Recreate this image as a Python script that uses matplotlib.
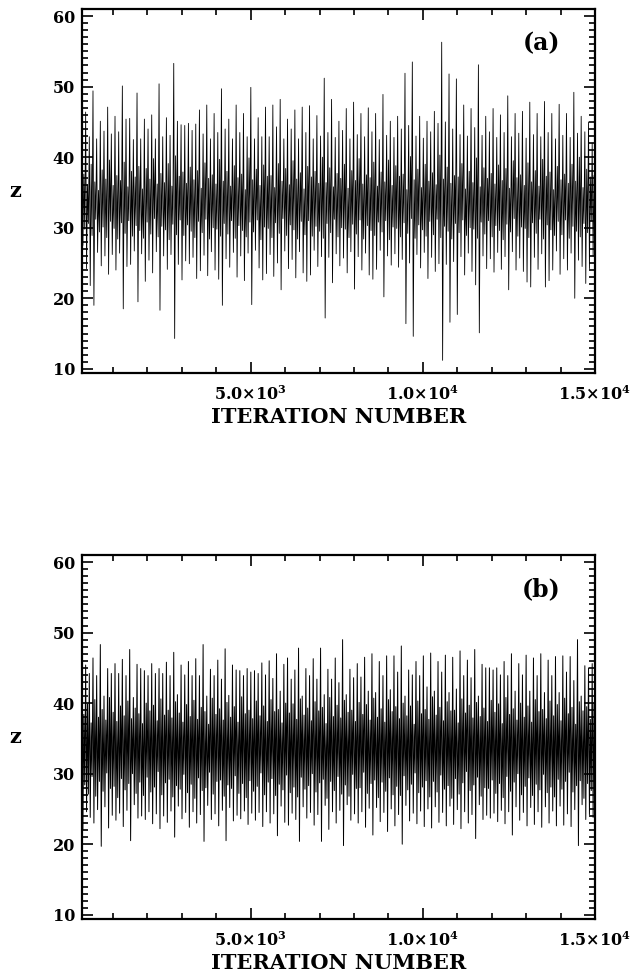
"""
z versus iteration number, two runs (a) and (b)
"""

import numpy as np
import matplotlib
matplotlib.use('Agg')
import matplotlib.pyplot as plt
from matplotlib.ticker import FixedLocator, MultipleLocator

# ── 1. DATA (successive maxima / minima of z) ───────────────────────────────
# each cycle: big peak -> trough -> small hump -> small dip -> next peak

peaks_a = [41.0, 46.4, 42.9, 49.4, 42.6, 45.1, 43.7, 47.1, 43.3, 45.8,
           43.6, 50.1, 45.4, 45.5, 42.5, 49.1, 42.6, 45.4, 44.0, 46.0,
           42.6, 50.4, 42.9, 45.6, 43.1, 53.3, 45.1, 44.6, 44.5, 44.8,
           43.8, 44.7, 46.7, 43.3, 47.4, 42.6, 46.2, 43.5, 49.7, 44.0,
           45.4, 42.6, 47.4, 43.5, 46.2, 42.9, 49.9, 42.6, 45.6, 42.9,
           47.1, 42.9, 47.4, 44.3, 48.2, 42.6, 45.4, 44.0, 46.7, 42.6,
           47.1, 43.5, 47.3, 42.6, 45.9, 43.0, 51.2, 43.5, 48.2, 42.8,
           45.1, 43.8, 46.9, 42.6, 47.8, 43.2, 46.2, 42.9, 47.0, 43.6,
           46.2, 42.5, 48.9, 43.1, 45.1, 42.8, 45.8, 44.0, 51.9, 44.5,
           53.5, 43.0, 45.8, 42.7, 45.1, 43.6, 46.5, 44.8, 56.3, 45.0,
           51.8, 44.0, 51.1, 43.2, 47.4, 43.0, 46.9, 44.2, 53.1, 43.1,
           45.8, 43.6, 46.9, 42.8, 46.0, 43.5, 48.7, 42.9, 46.2, 43.4,
           46.5, 42.7, 47.8, 43.2, 46.2, 42.9, 47.9, 43.5, 46.2, 42.6,
           47.5, 43.1, 46.2, 42.8, 49.2, 43.4, 45.8, 43.6, 45.0, 42.0]

troughs_a = [27.5, 24.2, 21.8, 19.0, 26.5, 24.6, 26.0, 23.4, 26.2, 24.0,
             26.4, 18.5, 24.5, 24.8, 26.7, 19.5, 26.3, 22.4, 25.4, 23.6,
             26.6, 18.3, 26.0, 24.1, 26.2, 14.3, 24.8, 22.6, 25.3, 24.9,
             25.8, 22.8, 23.9, 26.1, 23.2, 26.6, 24.0, 22.7, 19.0, 25.6,
             24.4, 26.5, 23.0, 26.0, 22.5, 26.4, 19.1, 26.8, 24.3, 22.6,
             23.5, 26.2, 23.1, 25.0, 21.2, 26.7, 24.2, 25.5, 22.9, 26.6,
             23.6, 22.4, 23.3, 26.8, 24.5, 25.9, 17.2, 25.8, 22.2, 26.3,
             24.6, 25.7, 23.6, 26.6, 21.3, 25.9, 24.0, 26.4, 23.3, 22.7,
             24.1, 26.8, 20.2, 26.0, 24.7, 26.3, 24.4, 25.5, 16.4, 25.0,
             14.6, 26.2, 24.3, 26.5, 22.8, 25.8, 23.8, 24.9, 11.2, 24.8,
             16.6, 25.2, 17.7, 25.9, 23.3, 26.4, 23.8, 21.9, 15.1, 26.0,
             24.2, 25.6, 23.7, 26.5, 24.1, 25.9, 21.2, 26.6, 24.0, 25.7,
             23.8, 22.3, 21.6, 25.8, 24.1, 26.3, 21.6, 22.5, 24.0, 26.7,
             23.4, 25.6, 24.0, 26.4, 20.0, 25.4, 24.5, 22.1, 24.2, 26.0]

hump_a = [37.6, 36.1, 39.0, 36.5, 35.3, 38.2, 36.9, 39.6, 36.0, 37.4,
          36.7, 39.3, 35.8, 38.0, 37.2, 38.7, 35.5, 38.4, 36.9, 39.8,
          36.2, 37.7, 36.4, 39.1, 35.9, 40.2, 37.3, 37.9, 36.3, 38.6,
          36.8, 38.1, 35.6, 39.2, 37.0, 37.5, 36.2, 39.7, 36.6, 38.0,
          35.9, 38.8, 37.1, 37.6, 35.4, 39.9, 36.8, 38.3, 36.0, 38.9,
          37.3, 37.4, 35.7, 39.1, 36.6, 38.4, 36.1, 39.5, 36.9, 37.8,
          35.5, 38.7, 37.2, 38.0, 36.3, 40.0, 36.4, 38.5, 35.8, 37.7,
          37.0, 39.0, 35.6, 38.1, 36.7, 39.8, 36.2, 37.5, 37.1, 39.3,
          35.9, 37.9, 36.5, 39.6, 36.0, 38.8, 37.3, 37.6, 35.4, 40.1,
          36.8, 38.3, 35.7, 39.0, 36.6, 37.8, 36.1, 40.3, 36.9, 38.6,
          36.3, 37.4, 37.2, 39.1, 35.5, 38.0, 36.4, 39.9, 35.8, 38.5,
          37.0, 37.7, 36.2, 38.9, 36.7, 38.4, 35.6, 39.5, 37.1, 37.5,
          36.0, 39.2, 36.5, 38.1, 35.9, 39.7, 37.3, 37.9, 35.4, 38.7,
          36.8, 37.6, 36.3, 39.0, 36.6, 40.0, 35.7, 38.3, 37.2, 37.4]

dip_a = [29.8, 30.6, 28.9, 31.2, 29.4, 30.1, 28.6, 30.9, 29.9, 28.4,
         30.7, 29.2, 31.0, 28.8, 30.3, 29.6, 28.5, 30.8, 29.1, 31.3,
         28.7, 30.2, 29.7, 28.3, 30.5, 29.0, 31.1, 28.9, 30.4, 29.5,
         28.6, 30.9, 29.3, 31.2, 28.4, 30.0, 29.8, 28.8, 30.6, 29.1,
         31.0, 28.5, 30.3, 29.6, 28.7, 30.8, 29.4, 31.1, 28.3, 30.1,
         29.9, 28.6, 30.7, 29.2, 31.3, 28.9, 30.4, 29.7, 28.4, 30.9,
         29.0, 31.0, 28.8, 30.2, 29.5, 28.5, 30.6, 29.3, 31.2, 28.7,
         30.0, 29.8, 28.6, 30.5, 29.1, 31.1, 28.4, 30.3, 29.6, 28.9,
         30.8, 29.4, 31.0, 28.3, 30.1, 29.9, 28.7, 30.7, 29.2, 31.3,
         28.5, 30.4, 29.7, 28.8, 30.9, 29.0, 31.2, 28.6, 30.2, 29.5,
         28.4, 30.6, 29.3, 31.1, 28.9, 30.0, 29.8, 28.5, 30.8, 29.1,
         31.0, 28.7, 30.3, 29.6, 28.3, 30.5, 29.4, 31.3, 28.8, 30.1,
         29.9, 28.6, 30.7, 29.2, 31.2, 28.4, 30.4, 29.7, 28.9, 30.9,
         29.0, 31.1, 28.5, 30.2, 29.5, 28.7, 30.6, 29.3, 31.0, 28.8]

peaks_b = [45.6, 45.4, 44.2, 46.4, 43.9, 48.3, 41.0, 44.9, 44.2, 45.6,
           44.2, 46.2, 43.9, 47.6, 40.8, 45.5, 44.9, 44.6, 43.9, 45.6,
           44.2, 44.9, 44.2, 45.8, 43.9, 47.2, 41.2, 45.4, 44.0, 45.9,
           43.9, 46.3, 43.9, 48.3, 41.0, 44.8, 43.9, 46.1, 43.4, 47.7,
           41.1, 45.4, 44.7, 44.6, 43.9, 44.9, 44.4, 44.6, 44.2, 45.7,
           44.0, 46.0, 43.5, 47.0, 41.7, 45.5, 46.4, 43.4, 44.7, 47.8,
           41.0, 44.9, 43.9, 46.3, 43.4, 47.8, 41.2, 44.8, 43.4, 46.4,
           42.9, 49.0, 41.2, 44.8, 43.6, 45.6, 43.7, 46.5, 41.7, 47.0,
           41.5, 45.9, 43.9, 46.7, 41.9, 46.7, 44.4, 48.1, 41.0, 44.7,
           44.0, 45.9, 43.9, 46.7, 42.3, 47.1, 41.7, 45.9, 44.4, 46.8,
           41.5, 46.5, 42.0, 47.4, 43.9, 46.1, 43.6, 47.6, 41.0, 45.5,
           45.0, 45.0, 44.7, 45.0, 44.0, 45.9, 43.9, 47.0, 41.7, 45.6,
           44.0, 46.8, 41.7, 46.4, 43.9, 47.0, 41.5, 46.1, 43.9, 46.6,
           41.5, 46.7, 44.4, 46.6, 43.2, 49.0, 41.0, 45.3, 45.0, 45.6]

troughs_b = [22.1, 24.6, 23.8, 23.0, 24.9, 19.7, 25.3, 22.3, 24.1, 23.4,
             24.4, 22.5, 24.8, 20.5, 25.6, 23.7, 24.0, 23.5, 24.6, 22.9,
             24.3, 22.2, 24.0, 23.1, 24.7, 21.0, 25.4, 23.6, 24.5, 22.4,
             24.6, 23.0, 24.2, 20.4, 25.5, 23.5, 24.3, 22.6, 24.8, 20.5,
             25.2, 23.3, 24.1, 23.6, 24.7, 22.8, 24.4, 23.4, 24.5, 22.5,
             24.6, 23.0, 24.3, 21.2, 25.4, 23.1, 22.7, 24.4, 23.5, 20.4,
             25.3, 23.7, 24.5, 22.7, 24.2, 20.4, 25.5, 22.1, 24.6, 23.0,
             24.8, 19.8, 25.6, 23.4, 24.3, 23.0, 24.6, 22.4, 25.1, 21.3,
             25.2, 23.2, 24.5, 21.8, 25.0, 22.6, 24.2, 20.0, 25.5, 23.3,
             24.4, 22.9, 24.7, 22.5, 25.0, 22.3, 25.3, 23.1, 24.5, 22.6,
             25.4, 22.8, 24.9, 22.2, 24.6, 23.0, 24.2, 20.8, 25.6, 23.5,
             24.1, 23.7, 24.4, 23.2, 24.8, 22.9, 24.6, 21.3, 25.3, 23.4,
             24.5, 22.6, 25.2, 22.8, 24.6, 22.4, 25.3, 23.0, 24.7, 22.6,
             25.4, 22.7, 24.3, 22.5, 24.9, 19.8, 25.6, 23.5, 24.2, 23.8]

hump_b = [38.4, 39.9, 37.2, 40.5, 38.0, 39.1, 37.6, 40.8, 38.7, 37.4,
          39.6, 38.2, 40.3, 37.8, 39.3, 38.5, 37.1, 40.0, 38.9, 39.7,
          37.5, 40.6, 38.3, 39.0, 37.9, 40.2, 38.6, 37.3, 39.8, 38.1,
          40.4, 37.7, 39.4, 38.8, 37.0, 40.7, 38.4, 39.2, 37.6, 40.1,
          38.0, 39.5, 37.3, 40.9, 38.5, 39.0, 37.8, 40.3, 38.2, 39.6,
          37.4, 40.5, 38.8, 39.1, 37.2, 40.0, 38.6, 39.9, 37.7, 40.6,
          38.3, 39.3, 37.5, 40.2, 38.9, 39.4, 37.1, 40.8, 38.1, 39.7,
          37.9, 40.4, 38.7, 39.0, 37.4, 40.1, 38.4, 39.8, 37.6, 40.7,
          38.0, 39.2, 37.3, 40.5, 38.8, 39.5, 37.8, 40.0, 38.2, 39.6,
          37.0, 40.3, 38.5, 39.1, 37.7, 40.9, 38.3, 39.4, 37.5, 40.2,
          38.9, 39.0, 37.2, 40.6, 38.6, 39.7, 37.9, 40.1, 38.1, 39.3,
          37.4, 40.4, 38.7, 39.9, 37.1, 40.8, 38.4, 39.2, 37.6, 40.0,
          38.0, 39.6, 37.3, 40.5, 38.8, 39.1, 37.8, 40.3, 38.2, 39.8,
          37.5, 40.7, 38.5, 39.4, 37.0, 40.2, 38.9, 39.5, 37.7, 40.0]

dip_b = [28.4, 27.1, 29.6, 26.8, 28.9, 27.5, 30.1, 27.9, 28.2, 26.6,
         29.3, 27.7, 28.6, 30.0, 27.2, 28.8, 26.9, 29.5, 27.4, 28.1,
         30.3, 27.0, 28.7, 29.2, 26.7, 28.3, 27.8, 29.9, 27.3, 28.5,
         26.5, 29.4, 27.6, 28.0, 30.2, 27.1, 28.9, 29.1, 26.8, 28.4,
         27.9, 29.7, 27.2, 28.6, 26.6, 29.0, 27.5, 28.2, 30.1, 27.0,
         28.8, 29.3, 26.9, 28.5, 27.7, 29.8, 27.3, 28.1, 26.7, 29.5,
         27.8, 28.3, 30.0, 27.4, 28.7, 29.2, 26.5, 28.9, 27.6, 29.6,
         27.1, 28.4, 26.8, 29.9, 27.9, 28.0, 30.2, 27.2, 28.6, 29.1,
         26.6, 28.8, 27.5, 29.4, 27.0, 28.2, 26.9, 29.7, 27.7, 28.5,
         30.1, 27.3, 28.1, 29.0, 26.7, 28.9, 27.4, 29.8, 27.8, 28.3,
         26.5, 29.3, 27.1, 28.7, 30.3, 27.6, 28.4, 29.5, 26.8, 28.0,
         27.9, 29.1, 27.2, 28.6, 26.6, 29.6, 27.5, 28.8, 30.0, 27.0,
         28.2, 29.4, 26.9, 28.5, 27.7, 29.9, 27.3, 28.1, 26.7, 29.2,
         27.8, 28.9, 30.2, 27.4, 28.3, 29.0, 26.5, 28.6, 27.6, 29.7]

x_ticks = [5000, 10000, 15000]
x_labels = [r'5.0$\times$10$^3$', r'1.0$\times$10$^4$', r'1.5$\times$10$^4$']
y_ticks = [10, 20, 30, 40, 50, 60]
panel_tags = ['(a)', '(b)']
line_widths = [0.6, 0.7]

# ── 2. BUILD SERIES ─────────────────────────────────────────────────────────

def series(peaks, troughs, hump, dip):
    z = np.empty(4 * len(peaks))
    z[0::4] = peaks
    z[1::4] = troughs
    z[2::4] = hump
    z[3::4] = dip
    it = np.linspace(100, 15000, len(z))
    return it, z

plt.rcParams['font.family'] = ['DejaVu Serif']
plt.rcParams['mathtext.fontset'] = 'dejavuserif'
plt.rcParams['mathtext.default'] = 'bf'

# ── 3. PLOT ─────────────────────────────────────────────────────────────────

fig = plt.figure(figsize=(6.34, 9.74), dpi=100)
boxes = [[0.1293, 0.6170, 0.8091, 0.3737],
         [0.1293, 0.0565, 0.8091, 0.3737]]
data = [(peaks_a, troughs_a, hump_a, dip_a), (peaks_b, troughs_b, hump_b, dip_b)]

for box, cols, tag, lw in zip(boxes, data, panel_tags, line_widths):
    ax = fig.add_axes(box)
    it, z = series(*cols)
    ax.plot(it, z, color='black', lw=lw)
    ax.set_xlim(100, 15000)
    ax.set_ylim(9.4, 61.0)

    ax.xaxis.set_major_locator(FixedLocator(x_ticks))
    ax.xaxis.set_minor_locator(MultipleLocator(1000))
    ax.set_xticklabels(x_labels, fontsize=11.5, fontweight='bold')
    ax.yaxis.set_major_locator(FixedLocator(y_ticks))
    ax.yaxis.set_minor_locator(MultipleLocator(1))
    ax.set_yticklabels([str(v) for v in y_ticks], fontsize=11.5, fontweight='bold')

    ax.tick_params(which='both', direction='in', top=True, right=True, width=1.2)
    ax.tick_params(which='major', length=8)
    ax.tick_params(which='minor', length=4)
    ax.tick_params(axis='x', pad=9)
    ax.tick_params(axis='y', pad=5)
    for s in ax.spines.values():
        s.set_linewidth(1.6)

    ax.set_xlabel('ITERATION NUMBER', fontsize=15, fontweight='bold', labelpad=2)
    ax.set_ylabel('z', fontsize=15, fontweight='bold', rotation=0, va='center')
    ax.yaxis.set_label_coords(-0.13, 0.5)
    ax.text(0.895, 0.905, tag, transform=ax.transAxes, fontsize=17,
            fontweight='bold', ha='center', va='center')

plt.savefig('out.png', dpi=100)
